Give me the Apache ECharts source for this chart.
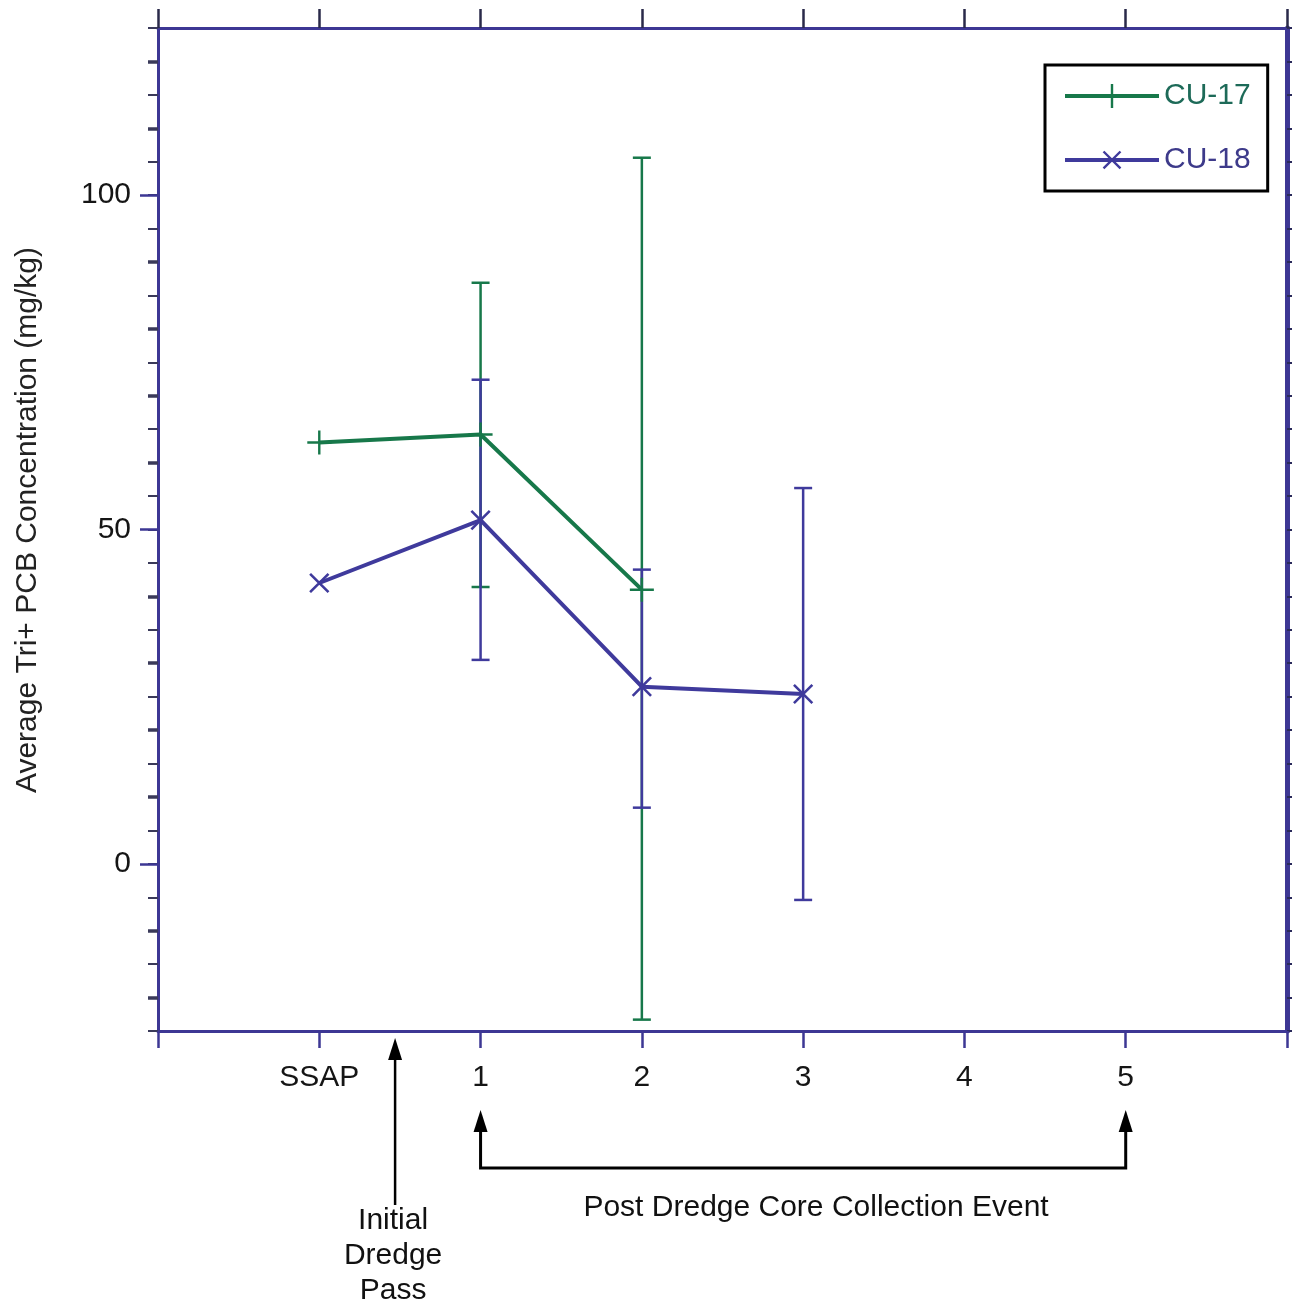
<!DOCTYPE html>
<html><head><meta charset="utf-8">
<script src="https://cdn.jsdelivr.net/npm/echarts@6/dist/echarts.min.js"></script>
<style>html,body{margin:0;padding:0;background:#fff}#c{width:1292px;height:1306px}</style>
</head><body><div id="c"></div>
<script>
// ---- data ----
const xTickLabels = ['SSAP', '1', '2', '3', '4', '5'];
const cu17X = [0, 1, 2];
const cu17Mean = [63.0, 64.2, 41.0];
const cu18X = [0, 1, 2, 3];
const cu18Mean = [42.0, 51.4, 26.5, 25.4];
const cu17ErrX = [1, 2];
const cu17Low = [41.4, -23.3];
const cu17High = [86.9, 105.6];
const cu18ErrX = [1, 2, 3];
const cu18Low = [30.5, 8.4, -5.4];
const cu18High = [72.4, 44.0, 56.2];
const yMajorTicks = [0, 50, 100];
const yTenTicks = [-20, -10, 10, 20, 30, 40, 60, 70, 80, 90, 110, 120];
const seriesNames = ['CU-17', 'CU-18'];
const yTitle = 'Average Tri+ PCB Concentration (mg/kg)';
const initialPassX = 0.47;
const postEventFrom = 1, postEventTo = 5;

// ---- styles ----
const FONT = '"Liberation Sans", Arial, sans-serif';
const AXIS = '#3d3794';
const GREEN = '#17784a';
const BLUE = '#3f3a9c';
const PLUS = 'path://M0,9L20,9L20,11L0,11Z M9,0L11,0L11,20L9,20Z';

const chart = echarts.init(document.getElementById('c'), null, {renderer: 'canvas'});

function pairs(xs, ys) { return xs.map((x, i) => [x, ys[i]]); }
function triples(xs, lo, hi) { return xs.map((x, i) => [x, lo[i], hi[i]]); }

function errRender(color) {
  return function (params, api) {
    const x = api.value(0);
    const p1 = api.coord([x, api.value(1)]);
    const p2 = api.coord([x, api.value(2)]);
    const hw = 9;
    const st = {stroke: color, lineWidth: 2.5};
    return {type: 'group', children: [
      {type: 'line', shape: {x1: p1[0], y1: p1[1], x2: p2[0], y2: p2[1]}, style: st},
      {type: 'line', shape: {x1: p1[0] - hw, y1: p1[1], x2: p1[0] + hw, y2: p1[1]}, style: st},
      {type: 'line', shape: {x1: p2[0] - hw, y1: p2[1], x2: p2[0] + hw, y2: p2[1]}, style: st}
    ]};
  };
}

const xCommon = {
  type: 'value', min: -1, max: 6, interval: 1,
  axisLine: {show: true, onZero: false, lineStyle: {color: AXIS, width: 3}},
  axisTick: {show: true, inside: false, length: 17, lineStyle: {color: AXIS, width: 2.5}},
  splitLine: {show: false}
};
const yCommon = {type: 'value', min: -25, max: 125, splitLine: {show: false}};

chart.setOption({
  animation: false,
  backgroundColor: '#fff',
  grid: {left: 158, right: 5, top: 28, bottom: 275, containLabel: false},
  xAxis: [
    Object.assign({}, xCommon, {
      position: 'bottom',
      axisLabel: {
        show: true, margin: 32, fontSize: 30, fontFamily: FONT, color: '#151515',
        formatter: v => (v >= 0 && v < xTickLabels.length) ? xTickLabels[v] : ''
      }
    }),
    Object.assign({}, xCommon, {position: 'top', axisLabel: {show: false},
      axisTick: {show: true, inside: false, length: 19, lineStyle: {color: '#2a2a4a', width: 2.5}}})
  ],
  yAxis: [
    Object.assign({}, yCommon, {
      position: 'left', interval: 5,
      axisLine: {show: true, onZero: false, lineStyle: {color: AXIS, width: 3}},
      axisTick: {show: true, inside: false, length: 10, lineStyle: {color: '#3a3a5a', width: 2}},
      axisLabel: {show: false}
    }),
    Object.assign({}, yCommon, {
      position: 'left',
      axisLine: {show: false, onZero: false},
      axisTick: {show: true, inside: false, length: 10, customValues: yTenTicks, lineStyle: {color: '#3a3a5a', width: 3.5}},
      axisLabel: {show: false}
    }),
    Object.assign({}, yCommon, {
      position: 'left',
      axisLine: {show: false, onZero: false},
      axisTick: {show: true, inside: false, length: 18, customValues: yMajorTicks, lineStyle: {color: AXIS, width: 2.5}},
      axisLabel: {show: true, customValues: yMajorTicks, margin: 27, fontSize: 30, fontFamily: FONT, color: '#151515'}
    }),
    Object.assign({}, yCommon, {
      position: 'right', interval: 5,
      axisLine: {show: true, onZero: false, lineStyle: {color: AXIS, width: 5}},
      axisTick: {show: true, inside: false, length: 5, lineStyle: {color: '#2a2a5a', width: 2}},
      axisLabel: {show: false}
    })
  ],
  legend: {
    orient: 'vertical', left: 1045, top: 65,
    padding: [16, 17, 14, 18], itemGap: 32, itemWidth: 94, itemHeight: 30,
    backgroundColor: '#fff', borderColor: '#000', borderWidth: 3, borderRadius: 0,
    lineStyle: {width: 4},
    textStyle: {fontSize: 30, fontFamily: FONT, padding: [0, 0, 0, 0]},
    data: [
      {name: seriesNames[0], textStyle: {color: '#1d6a58'}},
      {name: seriesNames[1], textStyle: {color: '#3d3a8a'}}
    ]
  },
  series: [
    {type: 'custom', name: seriesNames[0] + ' error', z: 2, renderItem: errRender(GREEN),
      encode: {x: 0, y: [1, 2]}, data: triples(cu17ErrX, cu17Low, cu17High)},
    {type: 'custom', name: seriesNames[1] + ' error', z: 3, renderItem: errRender(BLUE),
      encode: {x: 0, y: [1, 2]}, data: triples(cu18ErrX, cu18Low, cu18High)},
    {type: 'line', name: seriesNames[0], z: 4, data: pairs(cu17X, cu17Mean),
      color: GREEN, lineStyle: {color: GREEN, width: 4},
      symbol: PLUS, symbolSize: 24, itemStyle: {color: GREEN}, showAllSymbol: true},
    {type: 'line', name: seriesNames[1], z: 5, data: pairs(cu18X, cu18Mean),
      color: BLUE, lineStyle: {color: BLUE, width: 4},
      symbol: PLUS, symbolSize: 26, symbolRotate: 45, itemStyle: {color: BLUE}, showAllSymbol: true}
  ]
});

// ---- annotations below the axis, positioned through the x scale ----
const px = v => chart.convertToPixel({xAxisIndex: 0}, v);
const x0 = px(initialPassX), x1 = px(postEventFrom), x5 = px(postEventTo);
const BLACK = '#000';
function arrowHead(x, tipY) {
  return {type: 'polygon', shape: {points: [[x, tipY], [x - 7, tipY + 22], [x + 7, tipY + 22]]},
    style: {fill: BLACK}, z: 10};
}
chart.setOption({
  graphic: [
    {type: 'text', x: 28, y: 520, rotation: Math.PI / 2,
      style: {text: yTitle, font: '30px ' + FONT, fill: '#222', align: 'center', verticalAlign: 'middle'}},
    {type: 'line', shape: {x1: x0, y1: 1205, x2: x0, y2: 1055}, style: {stroke: BLACK, lineWidth: 2.5}},
    arrowHead(x0, 1038),
    {type: 'text', x: x0 - 2, y: 1256,
      style: {text: 'Initial\nDredge\nPass', font: '30px ' + FONT, lineHeight: 35, fill: '#111',
        align: 'center', verticalAlign: 'middle'}},
    {type: 'polyline', shape: {points: [[x1, 1125], [x1, 1168], [x5, 1168], [x5, 1125]]},
      style: {stroke: BLACK, lineWidth: 3, fill: null}},
    arrowHead(x1, 1110),
    arrowHead(x5, 1110),
    {type: 'text', x: px(3.08), y: 1208,
      style: {text: 'Post Dredge Core Collection Event', font: '30px ' + FONT, fill: '#111',
        align: 'center', verticalAlign: 'middle'}}
  ]
});
</script></body></html>
